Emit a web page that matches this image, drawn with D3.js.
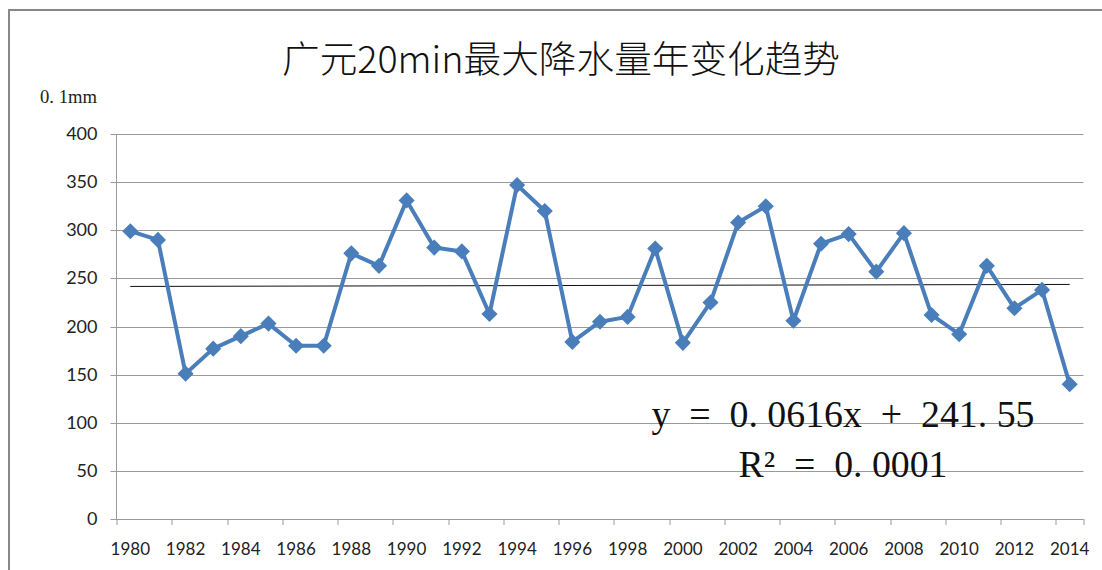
<!DOCTYPE html>
<html>
<head>
<meta charset="utf-8">
<script src="https://cdn.jsdelivr.net/npm/d3@7"></script>
<style>
  html, body { margin: 0; padding: 0; background: #fff; }
  svg { display: block; }
  .pre { white-space: pre; }
</style>
</head>
<body>
<div id="chart"></div>
<script>
// data
const years = d3.range(1980, 2015);
const rainfall = [299, 290, 151, 177, 190, 203, 180, 180, 276, 263,
                  331, 282, 278, 213, 347, 320, 184, 205, 210, 281,
                  183, 225, 308, 325, 206, 286, 296, 257, 297, 212,
                  192, 263, 219, 238, 140];
const yTicks = [0, 50, 100, 150, 200, 250, 300, 350, 400];
const xLabels = years.filter((d, i) => i % 2 === 0);
const trendSlope = 0.0616;
const trendIntercept = 241.55;
const titleText = "广元20min最大降水量年变化趋势";
const unitText = "0. 1mm";
const eqText = ["y  =  0. 0616x  +  241. 55", "R²  =  0. 0001"];

const width = 1102, height = 570;
const margin = {left: 116.5, right: 18.5, top: 134, bottom: 51};
const innerW = width - margin.left - margin.right;
const innerH = height - margin.top - margin.bottom;

let svg = d3.select("#chart").append("svg")
  .attr("width", width)
  .attr("height", height);

// chart frame
svg.append("path")
  .attr("d", `M9,${height} L9,10 L${width},10`)
  .attr("fill", "none")
  .attr("stroke", "#888")
  .attr("stroke-width", 2);

// title
svg.append("text")
  .attr("x", 561).attr("y", 73)
  .attr("text-anchor", "middle")
  .attr("font-family", "'Noto Sans CJK SC', sans-serif")
  .attr("font-weight", 300)
  .attr("font-size", 37)
  .attr("textLength", 558)
  .attr("lengthAdjust", "spacingAndGlyphs")
  .attr("fill", "#111")
  .text(titleText);

svg.append("text")
  .attr("class", "pre")
  .attr("x", 40).attr("y", 103)
  .attr("font-family", "'Liberation Serif', serif")
  .attr("font-size", 19)
  .attr("textLength", 57)
  .attr("lengthAdjust", "spacingAndGlyphs")
  .attr("fill", "#222")
  .text(unitText);

let g = svg.append("g").attr("transform", `translate(${margin.left},${margin.top})`);

// scales
const xScale = d3.scaleBand()
  .domain(years)
  .range([0, innerW]);

const yScale = d3.scaleLinear()
  .domain([0, 400])
  .range([innerH, 0]);

// gridlines
g.append("g")
  .selectAll("line")
  .data(yTicks)
  .join("line")
  .attr("x1", -6).attr("x2", innerW)
  .attr("y1", d => Math.round(yScale(d)) + 0.5)
  .attr("y2", d => Math.round(yScale(d)) + 0.5)
  .attr("stroke", "#9a9a9a")
  .attr("stroke-width", 1);

// y labels
g.append("g")
  .selectAll("text")
  .data(yTicks)
  .join("text")
  .attr("x", -19)
  .attr("y", d => yScale(d) + 6)
  .attr("text-anchor", "end")
  .attr("font-family", "Lato, sans-serif")
  .attr("font-size", 18)
  .attr("fill", "#222")
  .text(d => d);

// y axis line
g.append("line")
  .attr("x1", 0).attr("x2", 0)
  .attr("y1", 0).attr("y2", innerH)
  .attr("stroke", "#9a9a9a");

// x ticks at category boundaries, every 2 years
g.append("g")
  .selectAll("line")
  .data(xLabels.concat([2016]))
  .join("line")
  .attr("x1", d => Math.round(d === 2016 ? innerW : xScale(d)) + 0.5)
  .attr("x2", d => Math.round(d === 2016 ? innerW : xScale(d)) + 0.5)
  .attr("y1", innerH).attr("y2", innerH + 6)
  .attr("stroke", "#9a9a9a");

// x labels
g.append("g")
  .selectAll("text")
  .data(xLabels)
  .join("text")
  .attr("x", d => xScale(d) + xScale.bandwidth() / 2)
  .attr("y", innerH + 36)
  .attr("text-anchor", "middle")
  .attr("font-family", "Lato, sans-serif")
  .attr("font-size", 17)
  .attr("fill", "#222")
  .text(d => d);

// trend line
const cx = d => xScale(d) + xScale.bandwidth() / 2;
g.append("line")
  .attr("x1", cx(years[0]))
  .attr("x2", cx(years[years.length - 1]))
  .attr("y1", yScale(trendSlope * 1 + trendIntercept))
  .attr("y2", yScale(trendSlope * years.length + trendIntercept))
  .attr("stroke", "#111")
  .attr("stroke-width", 1);

// series line
const line = d3.line()
  .x((d, i) => cx(years[i]))
  .y(d => yScale(d));

g.append("path")
  .datum(rainfall)
  .attr("d", line)
  .attr("fill", "none")
  .attr("stroke", "#4a7ebb")
  .attr("stroke-width", 4)
  .attr("stroke-linejoin", "round");

// diamond markers
g.append("g")
  .selectAll("path")
  .data(rainfall)
  .join("path")
  .attr("d", d3.symbol().type(d3.symbolSquare).size(130))
  .attr("transform", (d, i) => `translate(${cx(years[i])},${yScale(d)}) rotate(45)`)
  .attr("fill", "#4a7ebb");

// equation
svg.append("text")
  .attr("class", "pre")
  .attr("x", 843).attr("y", 427)
  .attr("text-anchor", "middle")
  .attr("font-family", "'Liberation Serif', serif")
  .attr("font-size", 37)
  .attr("textLength", 383)
  .attr("lengthAdjust", "spacingAndGlyphs")
  .attr("fill", "#111")
  .text(eqText[0]);

svg.append("text")
  .attr("class", "pre")
  .attr("x", 843).attr("y", 477)
  .attr("text-anchor", "middle")
  .attr("font-family", "'Liberation Serif', serif")
  .attr("font-size", 37)
  .attr("textLength", 209)
  .attr("lengthAdjust", "spacingAndGlyphs")
  .attr("fill", "#111")
  .text(eqText[1]);
</script>
</body>
</html>
